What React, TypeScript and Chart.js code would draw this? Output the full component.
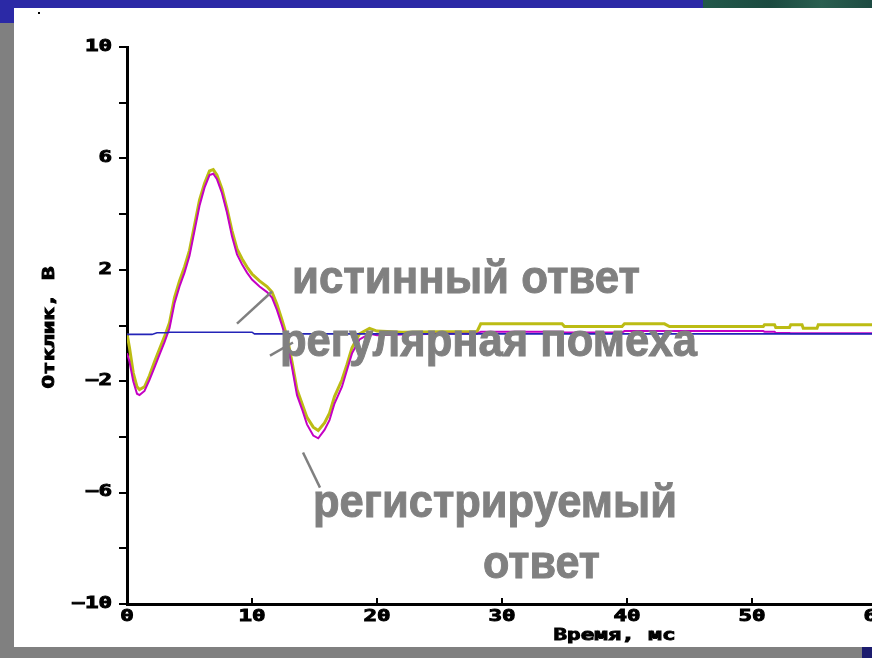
import React, { useEffect, useRef } from 'react';
import { Chart, registerables } from 'chart.js';

Chart.register(...registerables);

// ---- data (ms / V) ----
const waveTimes = [
  0, 0.2, 0.5, 0.8, 1.0, 1.4, 1.8, 2.2, 2.6, 3.0, 3.4, 3.8, 4.2, 4.6, 5.0, 5.4, 5.8, 6.2, 6.6, 6.9,
  7.2, 7.6, 8.0, 8.4, 8.8, 9.2, 9.6, 10.0, 10.6, 11.2, 11.6, 12.0, 12.4, 12.8, 13.2, 13.6, 14.0, 14.4,
  14.9, 15.3, 15.8, 16.2, 16.6, 17.2, 17.6, 18.0, 18.6, 19.4, 20, 22, 25, 28, 28.3, 30, 34.8, 35,
  39.6, 39.8, 43, 43.4, 50.9, 51, 51.8, 51.9, 53, 53.1, 54, 54.1, 55.2, 55.3, 60,
];
const trueResponse = [
  -0.3, -0.8, -1.7, -2.2, -2.3, -2.2, -1.8, -1.3, -0.85, -0.4, 0.1, 1.0, 1.6, 2.1, 2.7, 3.6, 4.5, 5.1, 5.55, 5.6,
  5.4, 4.9, 4.2, 3.4, 2.75, 2.4, 2.1, 1.85, 1.6, 1.4, 1.2, 0.75, 0.2, -0.4, -1.3, -2.3, -2.8, -3.3,
  -3.65, -3.77, -3.5, -3.15, -2.55, -1.95, -1.4, -0.8, -0.3, -0.1, -0.2, -0.24, -0.22, -0.22, 0.06, 0.06, 0.06, -0.04,
  -0.04, 0.06, 0.06, -0.04, -0.04, 0.03, 0.03, -0.07, -0.07, 0.03, 0.03, -0.1, -0.1, 0.03, 0.03,
];
const registeredResponse = [
  -1.0, -1.3, -2.0, -2.45, -2.5, -2.35, -1.95, -1.5, -1.05, -0.6, -0.1, 0.8, 1.4, 1.9, 2.5, 3.4, 4.3, 4.95, 5.4, 5.45,
  5.25, 4.75, 4.05, 3.2, 2.55, 2.2, 1.9, 1.65, 1.4, 1.2, 1.0, 0.55, 0.0, -0.6, -1.5, -2.5, -3.0, -3.55,
  -3.95, -4.05, -3.75, -3.4, -2.8, -2.2, -1.6, -1.0, -0.5, -0.3, -0.35, -0.32, -0.3, -0.3, -0.22, -0.22, -0.22, -0.25,
  -0.25, -0.2, -0.2, -0.2, -0.2, -0.22, -0.22, -0.27, -0.27, -0.28, -0.28, -0.28, -0.28, -0.28, -0.28,
];
const noiseTimes = [0, 2.0, 2.4, 3.2, 3.4, 10.0, 10.2, 60];
const noiseValues = [-0.32, -0.32, -0.26, -0.26, -0.24, -0.24, -0.3, -0.3];

const xTickValues = [0, 10, 20, 30, 40, 50, 60];
const xTickLabels = ['0', '10', '20', '30', '40', '50', '60'];
const yTickValues = [10, 6, 2, -2, -6, -10];
const yTickLabels = ['10', '6', '2', '\u22122', '\u22126', '\u221210'];
const yAxisTitle = 'Отклик, В';
const xAxisTitle = 'Время, мс';
const noteTexts = ['истинный ответ', 'регулярная помеха', 'регистрируемый', 'ответ'];

// ---- annotation layout (data coordinates, px widths) ----
const noteLayout = [
  { x: 13.2, y: 1.18, w: 348 },
  { x: 12.24, y: -1.11, w: 417 },
  { x: 14.88, y: -6.89, w: 364 },
  { x: 28.48, y: -9.05, w: 117 },
];
const leaderLines = [
  [8.8, 0.07, 11.6, 1.22],
  [11.44, -1.08, 13.28, -0.61],
  [14.08, -4.56, 15.44, -5.82],
];

const MONO = "bold 15px 'DejaVu Sans Mono'";
const STRETCH = 1.5;
const GRAY = '#808080';

const overlayPlugin = {
  id: 'overlay',
  afterDraw(chart: any) {
    const ctx: CanvasRenderingContext2D = chart.ctx;
    const xs = chart.scales.x;
    const ys = chart.scales.y;
    const area = chart.chartArea;
    ctx.save();
    // x tick marks (inward)
    ctx.strokeStyle = '#000';
    ctx.lineWidth = 2;
    xTickValues.forEach((v) => {
      const px = Math.round(xs.getPixelForValue(v));
      ctx.beginPath();
      ctx.moveTo(px, area.bottom);
      ctx.lineTo(px, area.bottom - 6);
      ctx.stroke();
    });
    const stretched = (text: string, x: number, y: number, align: CanvasTextAlign, rot = 0) => {
      ctx.save();
      ctx.translate(x, y);
      if (rot) ctx.rotate(rot);
      ctx.scale(STRETCH, 1);
      ctx.font = MONO;
      ctx.fillStyle = '#000';
      ctx.strokeStyle = '#000';
      ctx.lineWidth = 0.9;
      ctx.textAlign = align;
      ctx.textBaseline = 'middle';
      ctx.fillText(text, 0, 0);
      ctx.strokeText(text, 0, 0);
      ctx.restore();
    };
    yTickValues.forEach((v, i) => {
      stretched(yTickLabels[i], area.left - 15, ys.getPixelForValue(v), 'right');
    });
    xTickValues.forEach((v, i) => {
      stretched(xTickLabels[i], xs.getPixelForValue(v), area.bottom + 13, 'center');
    });
    stretched(yAxisTitle, 50, (area.top + area.bottom) / 2 + 2, 'center', -Math.PI / 2);
    stretched(xAxisTitle, xs.getPixelForValue(39), area.bottom + 32, 'center');

    // leader lines
    ctx.strokeStyle = GRAY;
    ctx.lineWidth = 2.5;
    leaderLines.forEach(([x1, y1, x2, y2]) => {
      ctx.beginPath();
      ctx.moveTo(xs.getPixelForValue(x1), ys.getPixelForValue(y1));
      ctx.lineTo(xs.getPixelForValue(x2), ys.getPixelForValue(y2));
      ctx.stroke();
    });
    // annotation texts
    noteTexts.forEach((t, i) => {
      const L = noteLayout[i];
      ctx.save();
      ctx.font = "bold 47px 'Liberation Sans'";
      const m = ctx.measureText(t).width;
      ctx.translate(xs.getPixelForValue(L.x), ys.getPixelForValue(L.y));
      ctx.scale(L.w / m, 1);
      ctx.fillStyle = GRAY;
      ctx.strokeStyle = GRAY;
      ctx.lineWidth = 1;
      ctx.textAlign = 'left';
      ctx.textBaseline = 'alphabetic';
      ctx.fillText(t, 0, 0);
      ctx.strokeText(t, 0, 0);
      ctx.restore();
    });
    ctx.restore();
  },
};

export default function App() {
  const ref = useRef<HTMLCanvasElement | null>(null);
  useEffect(() => {
    if (!ref.current) return;
    const chart = new Chart(ref.current, {
      type: 'line',
      data: {
        datasets: [
          {
            label: 'регулярная помеха',
            data: noiseTimes.map((t, i) => ({ x: t, y: noiseValues[i] })),
            borderColor: '#2424b8',
            borderWidth: 1.6,
            pointRadius: 0,
            tension: 0,
          },
          {
            label: 'регистрируемый ответ',
            data: waveTimes.map((t, i) => ({ x: t, y: registeredResponse[i] })),
            borderColor: '#c400c4',
            borderWidth: 2,
            pointRadius: 0,
            tension: 0,
          },
          {
            label: 'истинный ответ',
            data: waveTimes.map((t, i) => ({ x: t, y: trueResponse[i] })),
            borderColor: '#bcbc14',
            borderWidth: 3,
            pointRadius: 0,
            tension: 0,
          },
        ],
      },
      options: {
        animation: false,
        responsive: false,
        events: [],
        layout: { padding: { left: 0, top: 47, right: 23, bottom: 0 } },
        plugins: { legend: { display: false }, tooltip: { enabled: false } },
        scales: {
          x: {
            type: 'linear',
            min: 0,
            max: 60,
            ticks: { display: false, stepSize: 10 },
            grid: { display: false },
            border: { display: true, color: '#000', width: 3 },
            afterFit: (s: any) => {
              s.height = 54;
            },
          },
          y: {
            type: 'linear',
            min: -10,
            max: 10,
            ticks: { display: false, stepSize: 2 },
            grid: { drawOnChartArea: false, drawTicks: true, tickLength: 8, color: '#000', lineWidth: 2 },
            border: { display: true, color: '#000', width: 3 },
            afterFit: (s: any) => {
              s.width = 127;
            },
          },
        },
      },
      plugins: [overlayPlugin],
    } as any);
    return () => chart.destroy();
  }, []);

  return (
    <div
      style={{
        position: 'fixed',
        left: 0,
        top: 0,
        width: 872,
        height: 658,
        overflow: 'hidden',
        background: '#808080',
      }}
    >
      <div style={{ position: 'absolute', left: 0, top: 0, width: 872, height: 8, background: '#2b29a6' }} />
      <div style={{ position: 'absolute', left: 0, top: 0, width: 14, height: 23, background: '#2b29a6' }} />
      <div
        style={{
          position: 'absolute',
          left: 703,
          top: 0,
          width: 169,
          height: 9,
          background: 'linear-gradient(90deg, #22584a, #1b4a40 40%, #2a5f50 70%, #1d4b42)',
        }}
      />
      <div style={{ position: 'absolute', left: 14, top: 8, width: 858, height: 639, background: '#ffffff' }} />
      <div style={{ position: 'absolute', left: 38, top: 12, width: 2, height: 2, background: '#000' }} />
      <div style={{ position: 'absolute', left: 862, top: 647, width: 10, height: 11, background: '#1c1c6e' }} />
      <canvas
        ref={ref}
        width={900}
        height={658}
        style={{ position: 'absolute', left: 0, top: 0, width: 900, height: 658 }}
      />
    </div>
  );
}
